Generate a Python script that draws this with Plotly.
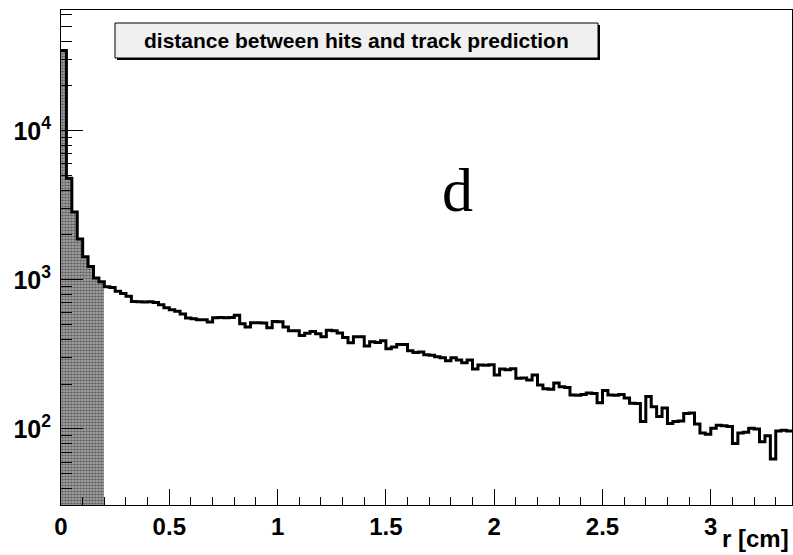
import plotly.graph_objects as go

# ---- data ----
bin_width = 0.025
x_max = 3.375
counts = [
    34500, 4800, 2850, 1880, 1430, 1230, 1030, 970, 900, 890,
    840, 810, 775, 715, 712, 710, 712, 705, 680, 650,
    630, 615, 590, 555, 548, 540, 540, 522, 558, 560,
    558, 560, 578, 508, 482, 515, 515, 514, 478, 525,
    524, 483, 455, 455, 424, 438, 450, 435, 415, 460,
    455, 440, 410, 378, 415, 416, 360, 385, 380, 390,
    345, 355, 368, 368, 335, 326, 328, 315, 312, 305,
    300, 287, 300, 290, 278, 290, 252, 269, 268, 270,
    230, 252, 250, 253, 219, 220, 213, 230, 197, 186,
    185, 203, 192, 190, 169, 168, 170, 174, 173, 150,
    181, 169, 168, 170, 161, 149, 148, 112, 165, 141,
    121, 138, 109, 112, 113, 127, 128, 108, 94, 92,
    101, 106, 105, 104, 80, 94, 95, 101, 100, 82,
    90, 63, 97, 98, 97,
]
shaded_upto = 0.2
title_text = "distance between hits and track prediction"
label_text = "d"
x_title = "r [cm]"
y_major = [100, 1000, 10000]
y_major_text = ["10<sup>2</sup>", "10<sup>3</sup>", "10<sup>4</sup>"]
y_minor = [m * 10 ** e for e in range(1, 5) for m in range(2, 10)]

# ---- derived ----
n = len(counts)
edges = [i * bin_width for i in range(n + 1)]
centers = [(edges[i] + edges[i + 1]) / 2 for i in range(n)]
shade_idx = [i for i in range(n) if edges[i + 1] <= shaded_upto + 1e-9]

fig = go.Figure()

fig.add_trace(go.Bar(
    x=[centers[i] for i in shade_idx],
    y=[counts[i] for i in shade_idx],
    width=bin_width,
    marker=dict(
        color="#909090",
        line=dict(width=0),
        pattern=dict(shape=".", size=3, solidity=0.6, fgcolor="#111111", bgcolor="#b4b4b4"),
    ),
    hoverinfo="skip",
))

fig.add_trace(go.Scatter(
    x=edges[:-1] + [edges[-1]],
    y=counts + [counts[-1]],
    mode="lines",
    line=dict(shape="hv", color="black", width=3),
    hoverinfo="skip",
))

font_family = "Liberation Sans, Arial, sans-serif"

fig.update_layout(
    width=793, height=555,
    margin=dict(l=61, r=1, t=10, b=50),
    plot_bgcolor="white", paper_bgcolor="white",
    showlegend=False, bargap=0,
    font=dict(family=font_family, color="black"),
)

fig.update_xaxes(
    range=[0, x_max],
    tickmode="linear", tick0=0, dtick=0.5,
    ticks="inside", ticklen=16, tickwidth=1, tickcolor="black",
    showline=True, linecolor="black", linewidth=1, mirror=True,
    showgrid=False, zeroline=False,
    tickfont=dict(size=24, family=font_family, weight="bold", color="black"),
    minor=dict(tick0=0, dtick=0.1, ticks="inside", ticklen=8, tickwidth=1,
               tickcolor="black", showgrid=False),
)

fig.update_yaxes(
    type="log", range=[1.49, 4.81],
    tickmode="array", tickvals=y_major, ticktext=y_major_text,
    ticks="inside", ticklen=22, tickwidth=1, tickcolor="black",
    ticklabelstandoff=4,
    showline=True, linecolor="black", linewidth=1, mirror=True,
    showgrid=False, zeroline=False,
    tickfont=dict(size=25, family=font_family, weight="bold", color="black"),
    minor=dict(tickmode="array", tickvals=y_minor, ticks="inside", ticklen=11,
               tickwidth=1, tickcolor="black", showgrid=False),
)

# title box (ROOT style) in pixel -> paper coords
L, R, T, B = 61, 792, 10, 505
def px(xp):
    return (xp - L) / (R - L)
def py(yp):
    return (B - yp) / (B - T)

fig.add_shape(type="rect", xref="paper", yref="paper",
              x0=px(117), x1=px(600), y0=py(60), y1=py(25),
              fillcolor="black", line=dict(width=0), layer="above")
fig.add_shape(type="rect", xref="paper", yref="paper",
              x0=px(115), x1=px(598), y0=py(58), y1=py(23),
              fillcolor="#f0f0f0", line=dict(color="black", width=1), layer="above")

fig.add_annotation(xref="paper", yref="paper", x=px(356.5), y=py(40.5),
                   text=title_text, showarrow=False, xanchor="center", yanchor="middle",
                   font=dict(size=21, family=font_family, weight="bold", color="black"))

fig.add_annotation(xref="paper", yref="paper", x=px(457.5), y=py(190),
                   text=label_text, showarrow=False, xanchor="center", yanchor="middle",
                   font=dict(size=62, family="Liberation Serif, Times New Roman, serif", color="black"))

fig.add_annotation(xref="paper", yref="paper", x=px(791), y=py(538),
                   text=x_title, showarrow=False, xanchor="right", yanchor="middle",
                   font=dict(size=24, family=font_family, weight="bold", color="black"))

fig.write_html("out.html")
